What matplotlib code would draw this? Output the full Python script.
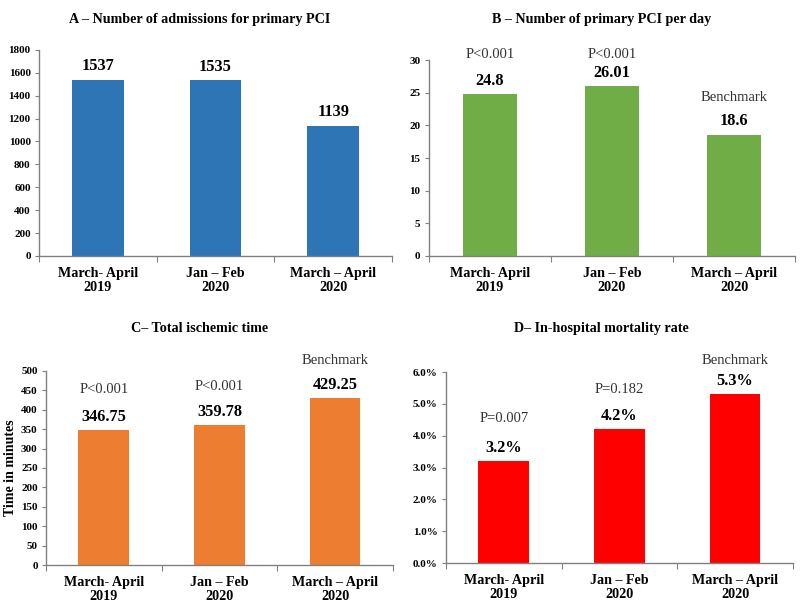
import matplotlib
matplotlib.use("Agg")
import matplotlib.pyplot as plt
from matplotlib.ticker import FuncFormatter, MultipleLocator

plt.rcParams['font.family'] = ['Liberation Serif', 'DejaVu Serif']

categories = ["March- April\n2019", "Jan – Feb\n2020", "March – April\n2020"]

admissions = [1537, 1535, 1139]
pci_per_day = [24.8, 26.01, 18.6]
ischemic_time = [346.75, 359.78, 429.25]
mortality = [0.032, 0.042, 0.053]

admissions_labels = ["1537", "1535", "1139"]
pci_labels = ["24.8", "26.01", "18.6"]
ischemic_labels = ["346.75", "359.78", "429.25"]
mortality_labels = ["3.2%", "4.2%", "5.3%"]

pvals_b = ["P<0.001", "P<0.001", "Benchmark"]
pvals_c = ["P<0.001", "P<0.001", "Benchmark"]
pvals_d = ["P=0.007", "P=0.182", "Benchmark"]

titles = ["A – Number of admissions for primary PCI",
          "B – Number of primary PCI per day",
          "C– Total ischemic time",
          "D– In-hospital mortality rate"]

fig = plt.figure(figsize=(8, 6.08), dpi=100)

axA = fig.add_axes([0.04875, 0.579, 0.49 - 0.04875, 0.918 - 0.579])
axB = fig.add_axes([0.536, 0.579, 0.994 - 0.536, 0.901 - 0.579])
axC = fig.add_axes([0.0575, 0.0707, 0.491 - 0.0575, 0.390 - 0.0707])
axD = fig.add_axes([0.5575, 0.074, 0.991 - 0.5575, 0.388 - 0.074])

def style(ax, values, color, ymax, step, labels):
    x = range(len(values))
    bars = ax.bar(x, values, width=0.44, color=color, zorder=2)
    ax.set_xlim(-0.5, len(values) - 0.5)
    ax.set_ylim(0, ymax)
    ax.yaxis.set_major_locator(MultipleLocator(step))
    for s in ['top', 'right']:
        ax.spines[s].set_visible(False)
    for s in ['left', 'bottom']:
        ax.spines[s].set_color('#808080')
        ax.spines[s].set_linewidth(1.0)
    ax.set_xticks([-0.5, 0.5, 1.5, 2.5])
    ax.set_xticklabels([])
    ax.set_xticks(list(x), minor=True)
    ax.set_xticklabels(categories, minor=True, fontweight='bold', fontsize=10.2,
                       linespacing=1.1)
    ax.tick_params(axis='x', which='major', length=4, color='#808080', direction='out')
    ax.tick_params(axis='x', which='minor', length=0, pad=8)
    ax.tick_params(axis='y', length=3, color='#808080', direction='out', pad=3,
                   labelsize=8)
    for t in ax.get_yticklabels():
        t.set_fontweight('bold')
    for b, lab in zip(bars, labels):
        ax.annotate(lab, (b.get_x() + b.get_width() / 2, b.get_height()),
                    xytext=(0, 4), textcoords='offset points', ha='center',
                    va='bottom', fontsize=11.8, fontweight='bold',
                    annotation_clip=False)
    return bars

style(axA, admissions, '#2E75B6', 1800, 200, admissions_labels)
style(axB, pci_per_day, '#70AD47', 30, 5, pci_labels)
style(axC, ischemic_time, '#ED7D31', 500, 50, ischemic_labels)
style(axD, mortality, '#FF0000', 0.06, 0.01, mortality_labels)
axD.yaxis.set_major_formatter(FuncFormatter(lambda v, p: f"{v*100:.1f}%"))
for t in axD.get_yticklabels():
    t.set_fontweight('bold')

# p-value / benchmark annotations
pos_b = [30.8, 30.8, 24.3]
pos_c = [451, 461, 528]
pos_d = [0.0453, 0.0544, 0.0635]
for ax, txts, ys in [(axB, pvals_b, pos_b), (axC, pvals_c, pos_c), (axD, pvals_d, pos_d)]:
    for i, (t, y) in enumerate(zip(txts, ys)):
        ax.text(i, y, t, ha='center', va='center', fontsize=10.5, color='#333333',
                clip_on=False)

axC.set_ylabel("Time in minutes", fontsize=10, fontweight='bold', labelpad=3)

fs_title = 10.2
fig.text(0.25, 1 - 20 / 608, titles[0], ha='center', va='center', fontsize=fs_title, fontweight='bold')
fig.text(0.752, 1 - 20 / 608, titles[1], ha='center', va='center', fontsize=fs_title, fontweight='bold')
fig.text(0.25, 1 - 329 / 608, titles[2], ha='center', va='center', fontsize=fs_title, fontweight='bold')
fig.text(0.752, 1 - 329 / 608, titles[3], ha='center', va='center', fontsize=fs_title, fontweight='bold')

fig.savefig("out.png", dpi=100)
